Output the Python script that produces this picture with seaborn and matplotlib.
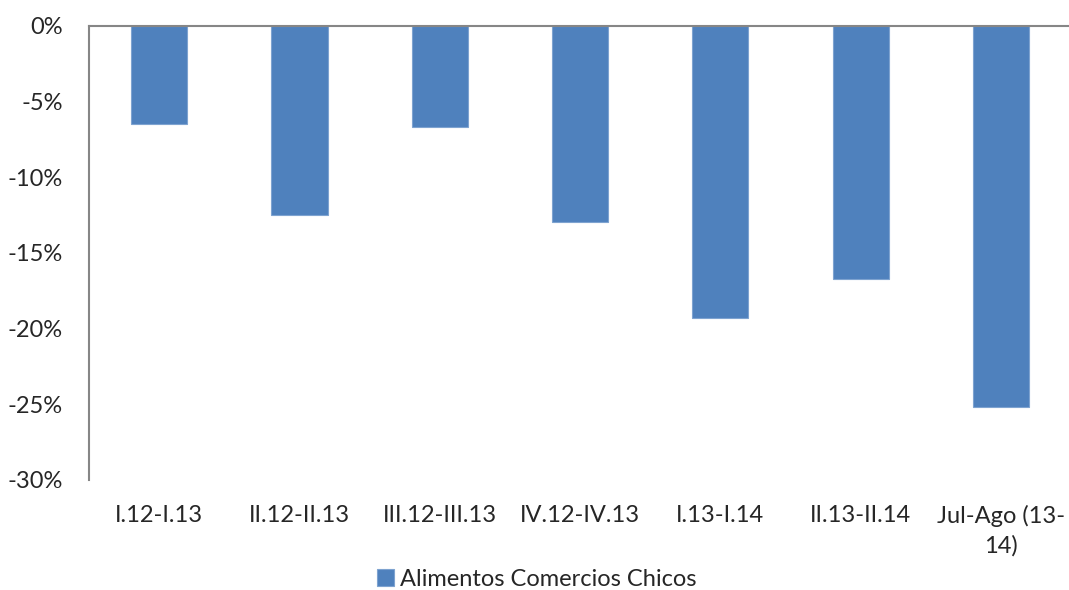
import matplotlib
matplotlib.use("Agg")
import matplotlib.pyplot as plt
import seaborn as sns
import pandas as pd

periodos = ["I.12-I.13", "II.12-II.13", "III.12-III.13", "IV.12-IV.13",
            "I.13-I.14", "II.13-II.14", "Jul-Ago (13-\n14)"]
variacion = [-6.5, -12.5, -6.7, -13.0, -19.3, -16.7, -25.2]
serie = "Alimentos Comercios Chicos"
y_ticks = [0, -5, -10, -15, -20, -25, -30]

df = pd.DataFrame({"periodo": periodos, "valor": variacion, "serie": serie})

sns.set_theme(style="white")
plt.rcParams["font.family"] = ["Lato", "DejaVu Sans"]

fig = plt.figure(figsize=(10.69, 5.90), dpi=100)
ax = fig.add_axes([89 / 1069, 110 / 590, 980 / 1069, 454.5 / 590])

sns.barplot(data=df, x="periodo", y="valor", hue="serie", dodge=False,
            width=0.4, palette=["#4F81BD"], saturation=1,
            edgecolor="#7EA3D0", linewidth=0.8, ax=ax)

ax.set_ylim(-30, 0)
ax.set_xlim(-0.5, 6.485)
ax.set_yticks(y_ticks)
ax.set_yticklabels([f"{v}%" for v in y_ticks], fontsize=17)
ax.set_xticklabels(periodos, fontsize=17, ha="center", linespacing=1.45)
ax.tick_params(axis="y", length=0, pad=19)
ax.tick_params(axis="x", length=0, pad=18)
ax.set_xlabel("")
ax.set_ylabel("")

for side in ["right", "bottom"]:
    ax.spines[side].set_visible(False)
for side in ["left", "top"]:
    ax.spines[side].set_color("#868686")
    ax.spines[side].set_linewidth(1.5)

handles, labels = ax.get_legend_handles_labels()
ax.get_legend().remove()
fig.legend(handles, labels, loc="lower center", bbox_to_anchor=(0.502, -0.036),
           frameon=False, fontsize=17, handlelength=0.7, handleheight=0.7,
           handletextpad=0.25)

fig.savefig("out.png", dpi=100)
